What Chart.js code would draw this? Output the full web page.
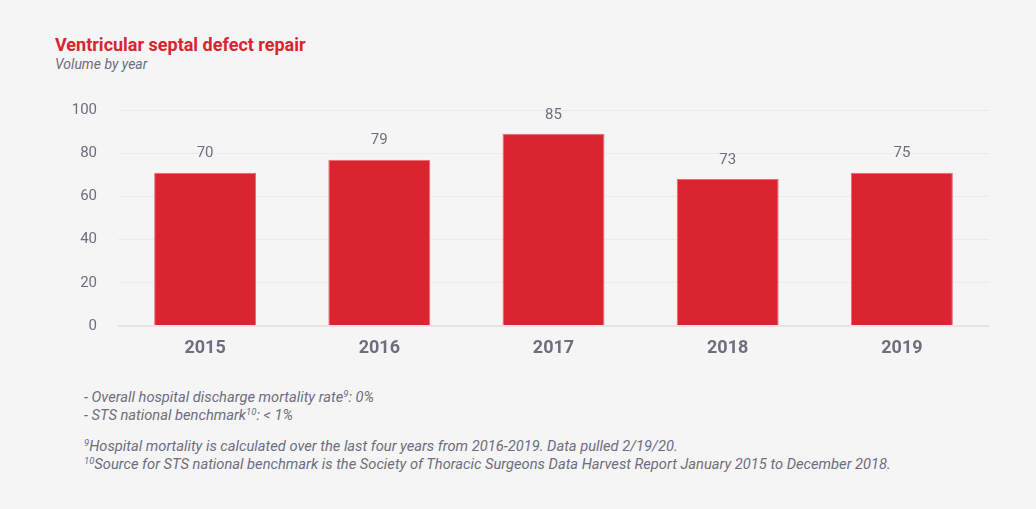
<!DOCTYPE html>
<html>
<head>
<meta charset="utf-8">
<script src="https://cdn.jsdelivr.net/npm/chart.js@4"></script>
<style>
  html, body { margin: 0; padding: 0; background: #f5f5f5; }
  body { width: 1036px; height: 509px; position: relative; overflow: hidden; font-family: Roboto, "Noto Sans", sans-serif; }
  .title { position: absolute; left: 55px; top: 34px; font-size: 18px; font-weight: bold; color: #da2430; }
  .subtitle { position: absolute; left: 55px; top: 56px; font-size: 14px; font-style: italic; color: #6e6e7e; }
  #chart-wrap { position: absolute; left: 0; top: 0; width: 1036px; height: 380px; }
  .notes { position: absolute; left: 84px; font-size: 14.7px; font-style: italic; color: #6e6e7e; line-height: 18px; white-space: nowrap; }
  .notes sup { font-size: 9.5px; line-height: 0; vertical-align: 5px; }
</style>
</head>
<body>
<div class="title">Ventricular septal defect repair</div>
<div class="subtitle">Volume by year</div>
<div id="chart-wrap"><canvas id="vsd-chart"></canvas></div>
<div class="notes" style="top: 388px;">
  - Overall hospital discharge mortality rate<sup>9</sup>: 0%<br>
  - STS national benchmark<sup>10</sup>: &lt; 1%
</div>
<div class="notes" style="top: 437px;">
  <sup>9</sup>Hospital mortality is calculated over the last four years from 2016-2019. Data pulled 2/19/20.<br>
  <sup>10</sup>Source for STS national benchmark is the Society of Thoracic Surgeons Data Harvest Report January 2015 to December 2018.
</div>
<script>
const years = ["2015", "2016", "2017", "2018", "2019"];
// bar heights as drawn in the graphic
const barHeights = [71, 77, 89, 68, 71];
// numbers printed above the bars
const valueLabels = ["70", "79", "85", "73", "75"];
const yTicks = [0, 20, 40, 60, 80, 100];

const textGray = "#6e6e7e";

const valueLabelPlugin = {
  id: "valueLabels",
  afterDatasetsDraw(chart) {
    const ctx = chart.ctx;
    const meta = chart.getDatasetMeta(0);
    ctx.save();
    ctx.font = "15px Roboto";
    ctx.fillStyle = textGray;
    ctx.textAlign = "center";
    ctx.textBaseline = "middle";
    meta.data.forEach((bar, i) => {
      ctx.fillText(valueLabels[i], bar.x, bar.y - 19);
    });
    ctx.restore();
  }
};

new Chart(document.getElementById("vsd-chart"), {
  type: "bar",
  data: {
    labels: years,
    datasets: [
      {
        label: "Volume",
        data: barHeights,
        backgroundColor: "#da2430",
        borderColor: "#e66a72",
        borderWidth: 1,
        borderSkipped: "bottom",
        barPercentage: 0.585,
        categoryPercentage: 1
      }
    ]
  },
  options: {
    responsive: true,
    maintainAspectRatio: false,
    animation: false,
    layout: {
      padding: { top: 110, right: 47, left: 0, bottom: 0 }
    },
    plugins: {
      legend: { display: false },
      tooltip: { enabled: false }
    },
    scales: {
      x: {
        grid: { display: false, drawTicks: false },
        border: { display: false },
        ticks: {
          color: textGray,
          font: { family: "Roboto", size: 18, weight: "bold" },
          padding: 12
        },
        afterFit(scale) {
          scale.height = 54;
        }
      },
      y: {
        min: 0,
        max: 100,
        afterBuildTicks(scale) {
          scale.ticks = yTicks.map((v) => ({ value: v }));
        },
        grid: {
          drawTicks: false,
          color: (c) => (c.tick && c.tick.value === 0 ? "#e4e4e4" : "#ebebeb"),
          lineWidth: (c) => (c.tick && c.tick.value === 0 ? 2 : 1)
        },
        border: { display: false },
        ticks: {
          color: textGray,
          font: { family: "Roboto", size: 15 },
          padding: 21
        },
        afterFit(scale) {
          scale.width = 118;
        }
      }
    }
  },
  plugins: [valueLabelPlugin]
});
</script>
</body>
</html>
